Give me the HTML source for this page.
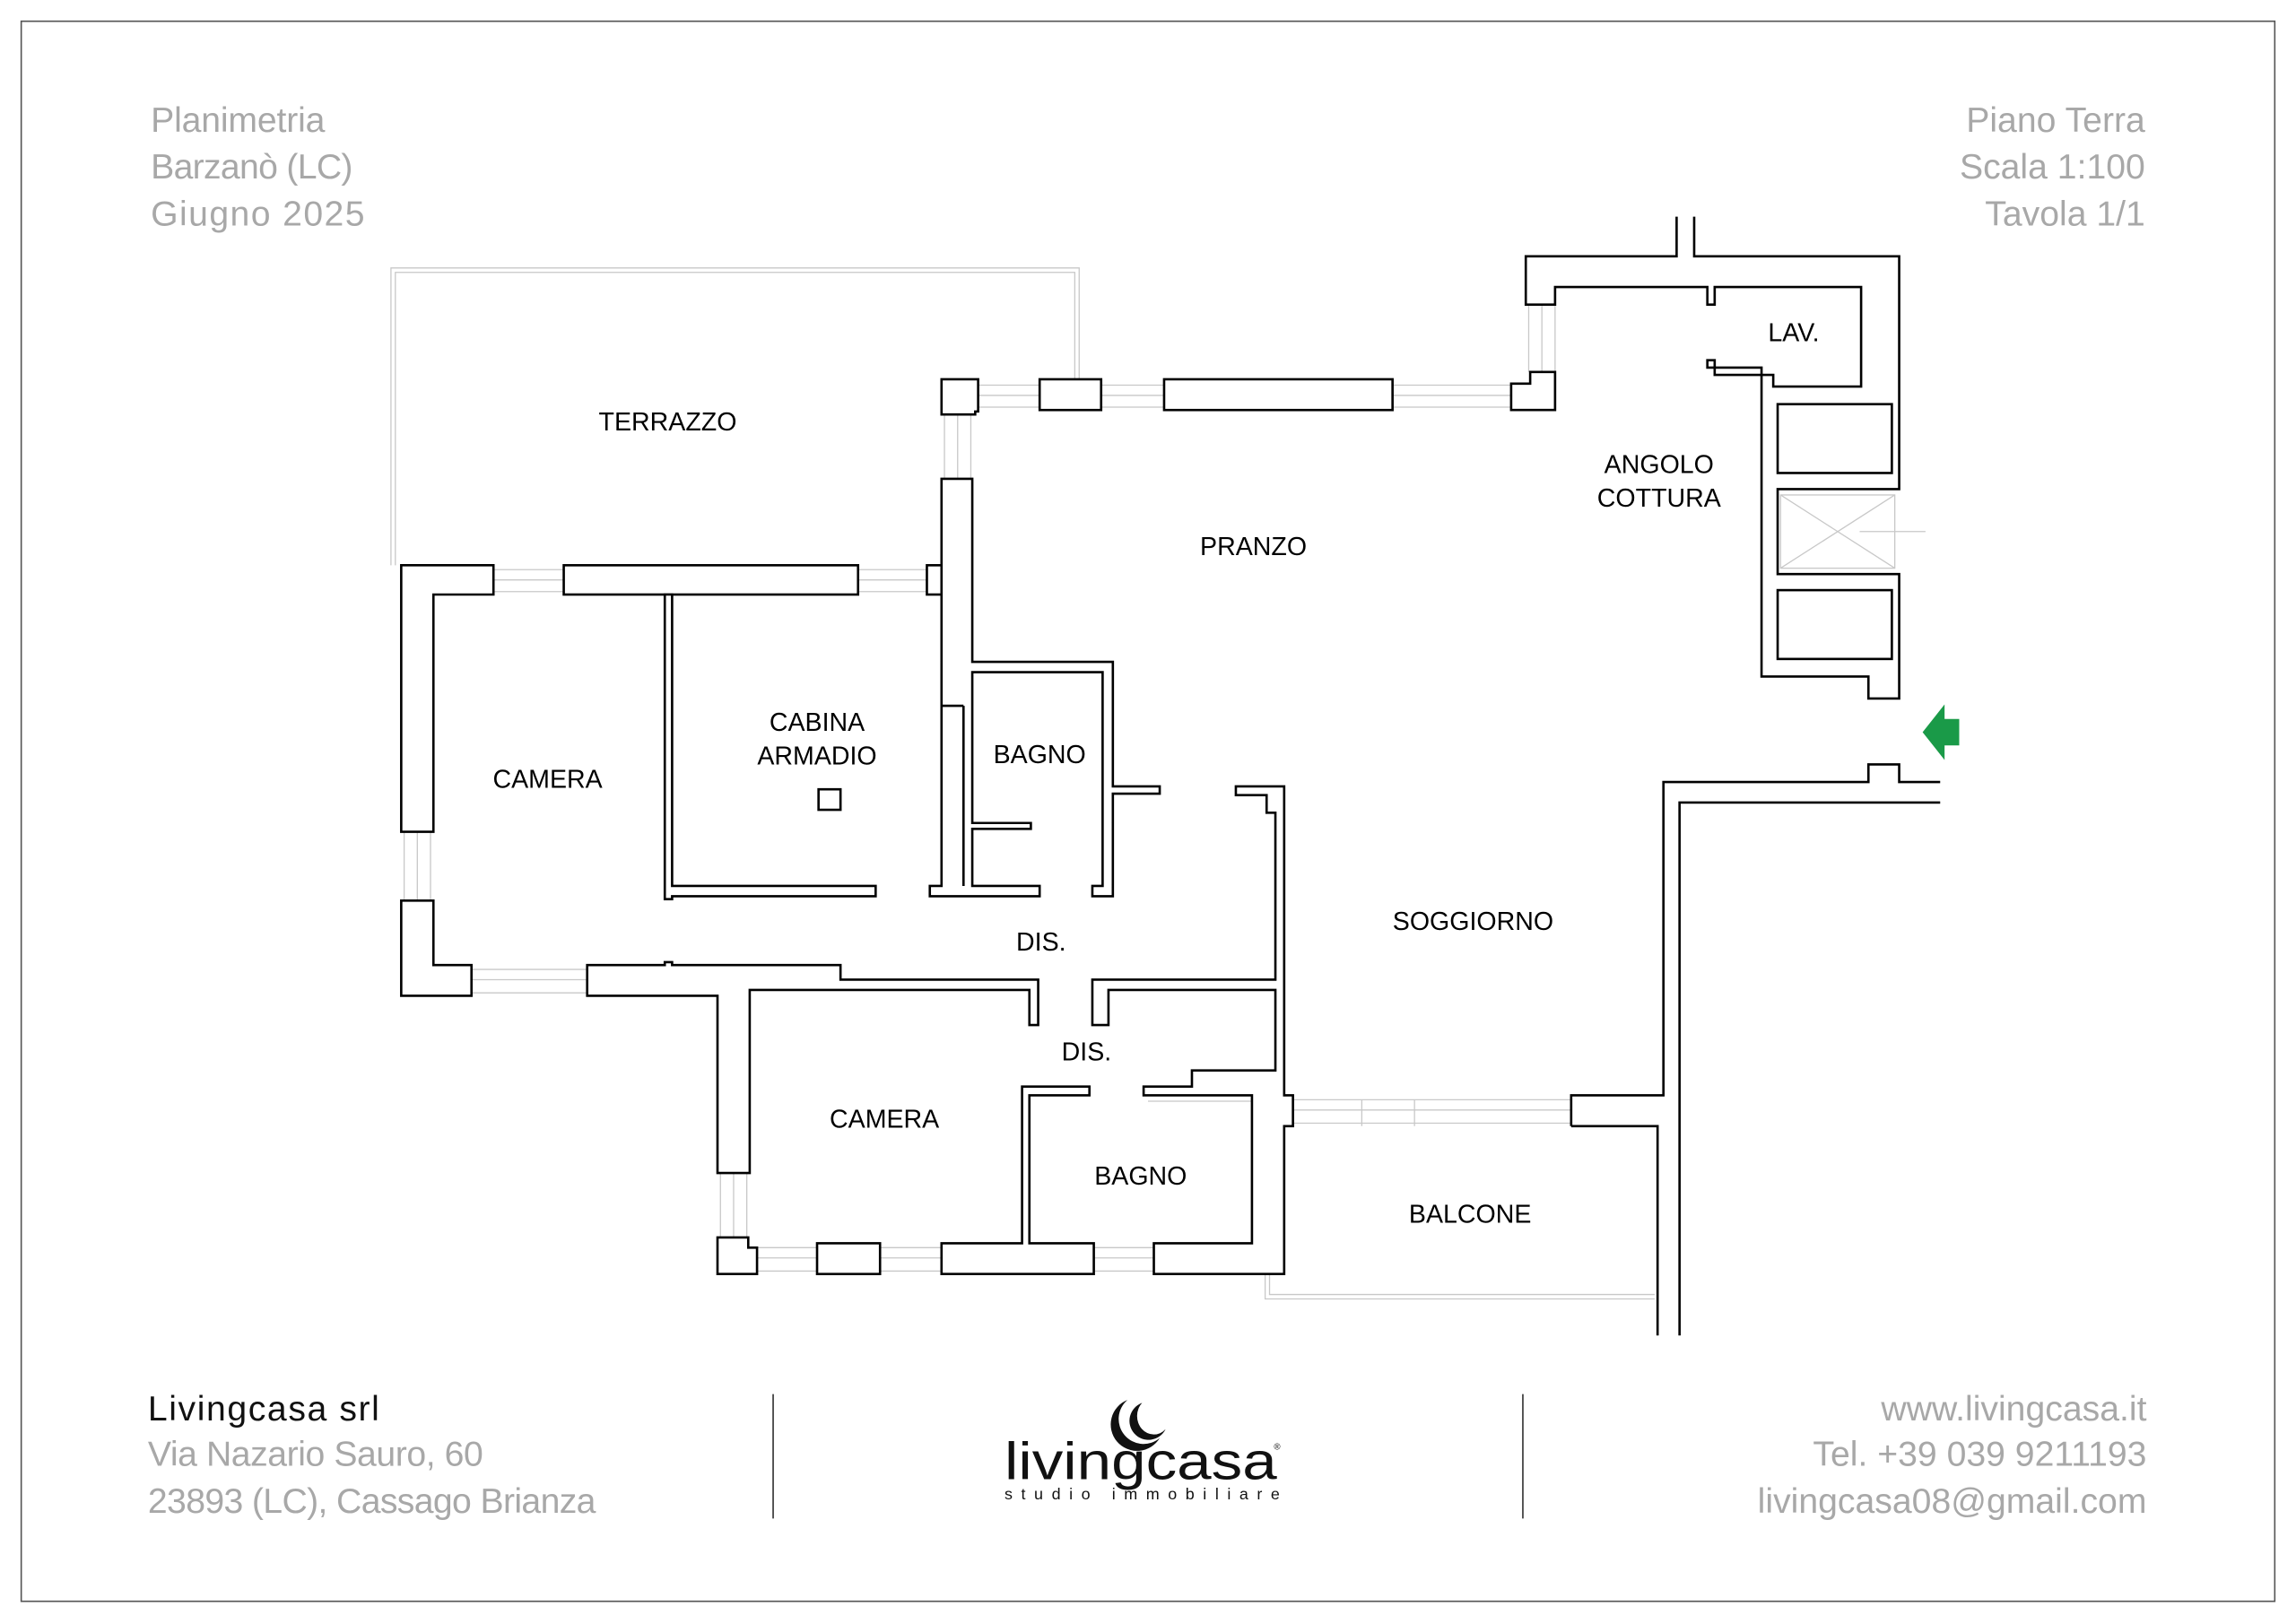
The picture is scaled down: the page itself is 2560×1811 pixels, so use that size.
<!DOCTYPE html>
<html><head><meta charset="utf-8"><style>
html,body{margin:0;padding:0;background:#fff;}
svg{display:block;}
text{font-family:"Liberation Sans",sans-serif;}
.w{fill:#fff;stroke:#000;stroke-width:1.6;stroke-linejoin:miter;}
.l{fill:none;stroke:#000;stroke-width:1.6;}
.g{fill:none;stroke:#c8c8c8;stroke-width:0.8;}
.r{font-size:17.5px;fill:#000;text-anchor:middle;}
.h{font-size:24px;fill:#a8a8a8;}
</style></head><body>
<svg width="2560" height="1811" viewBox="0 0 1568 1109" preserveAspectRatio="none" xmlns="http://www.w3.org/2000/svg">
<rect x="14.5" y="14.5" width="1539" height="1079" fill="#fff" stroke="#555" stroke-width="1"/>

<!-- header -->
<text class="h" x="103" y="90" textLength="119">Planimetria</text>
<text class="h" x="103" y="122" textLength="138">Barzanò (LC)</text>
<text class="h" x="103" y="154" textLength="146">Giugno 2025</text>
<text class="h" x="1465" y="90" text-anchor="end">Piano Terra</text>
<text class="h" x="1465" y="122" text-anchor="end">Scala 1:100</text>
<text class="h" x="1465" y="154" text-anchor="end">Tavola 1/1</text>

<!-- terrazzo gray outline -->
<polyline class="g" points="267,386 267,183 737,183 737,260"/>
<polyline class="g" points="270,386 270,186 734,186 734,260"/>

<!-- windows (gray) -->
<g class="g">
<line x1="668" y1="263" x2="710" y2="263"/><line x1="668" y1="270" x2="710" y2="270"/><line x1="668" y1="278" x2="710" y2="278"/>
<line x1="752" y1="263" x2="795" y2="263"/><line x1="752" y1="270" x2="795" y2="270"/><line x1="752" y1="278" x2="795" y2="278"/>
<line x1="951" y1="263" x2="1032" y2="263"/><line x1="951" y1="270" x2="1032" y2="270"/><line x1="951" y1="278" x2="1032" y2="278"/>
<line x1="645" y1="283" x2="645" y2="327"/><line x1="654" y1="283" x2="654" y2="327"/><line x1="663" y1="283" x2="663" y2="327"/>
<line x1="337" y1="389" x2="385" y2="389"/><line x1="337" y1="396" x2="385" y2="396"/><line x1="337" y1="404" x2="385" y2="404"/>
<line x1="586" y1="389" x2="633" y2="389"/><line x1="586" y1="396" x2="633" y2="396"/><line x1="586" y1="404" x2="633" y2="404"/>
<line x1="276" y1="568" x2="276" y2="615"/><line x1="285" y1="568" x2="285" y2="615"/><line x1="294" y1="568" x2="294" y2="615"/>
<line x1="322" y1="662" x2="401" y2="662"/><line x1="322" y1="669" x2="401" y2="669"/><line x1="322" y1="678" x2="401" y2="678"/>
<line x1="492" y1="801" x2="492" y2="845"/><line x1="501" y1="801" x2="501" y2="845"/><line x1="510" y1="801" x2="510" y2="845"/>
<line x1="517" y1="852" x2="558" y2="852"/><line x1="517" y1="859" x2="558" y2="859"/><line x1="517" y1="868" x2="558" y2="868"/>
<line x1="601" y1="852" x2="643" y2="852"/><line x1="601" y1="859" x2="643" y2="859"/><line x1="601" y1="868" x2="643" y2="868"/>
<line x1="747" y1="852" x2="788" y2="852"/><line x1="747" y1="859" x2="788" y2="859"/><line x1="747" y1="868" x2="788" y2="868"/>
<line x1="883" y1="751" x2="1073" y2="751"/><line x1="883" y1="758" x2="1073" y2="758"/><line x1="883" y1="767" x2="1073" y2="767"/>
<line x1="930" y1="751" x2="930" y2="769"/><line x1="966" y1="751" x2="966" y2="769"/>
<line x1="1044" y1="208" x2="1044" y2="254"/><line x1="1053" y1="208" x2="1053" y2="254"/><line x1="1062" y1="208" x2="1062" y2="254"/>
<polyline points="864,870 864,887 1130,887"/><polyline points="867,870 867,884 1130,884"/>
<line x1="784" y1="752" x2="855" y2="752"/>
<rect x="1216" y="338" width="78" height="50"/>
<line x1="1216" y1="338" x2="1294" y2="388"/><line x1="1294" y1="338" x2="1216" y2="388"/>
<line x1="1270" y1="363" x2="1315" y2="363"/>
</g>

<!-- walls -->
<g class="w">
<polygon points="643,259 668,259 668,281 666,281 666,283 643,283"/>
<rect x="710" y="259" width="42" height="21"/>
<rect x="795" y="259" width="156" height="21"/>
<polygon points="1032,262 1045,262 1045,254 1062,254 1062,280 1032,280"/>
<polygon points="274,386 337,386 337,406 296,406 296,568 274,568"/>
<polygon points="274,615 296,615 296,659 322,659 322,680 274,680"/>
<rect x="385" y="386" width="201" height="20"/>
<rect x="633" y="386" width="10" height="20"/>
<polygon points="643,327 664,327 664,452 760,452 760,537 792,537 792,542 760,542 760,612 746,612 746,605 753,605 753,459 664,459 664,562 704,562 704,566 664,566 664,605 710,605 710,612 635,612 635,605 643,605"/>
<line x1="658" y1="482" x2="658" y2="605"/><line x1="643" y1="482" x2="658" y2="482"/>
<polygon points="454,406 459,406 459,605 598,605 598,612 459,612 459,614 454,614"/>
<polygon points="401,659 454,659 454,657 459,657 459,659 574,659 574,669 709,669 709,700 703,700 703,676 512,676 512,801 490,801 490,680 401,680"/>
<polygon points="844,537 877,537 877,748 883,748 883,769 877,769 877,870 788,870 788,849 855,849 855,748 781,748 781,742 814,742 814,731 871,731 871,676 757,676 757,700 746,700 746,669 871,669 871,555 865,555 865,543 844,543"/>
<polygon points="698,742 744,742 744,748 703,748 703,849 747,849 747,870 643,870 643,849 698,849"/>
<polygon points="490,845 511,845 511,852 517,852 517,870 490,870"/>
<rect x="558" y="849" width="43" height="21"/>
<rect x="559" y="539" width="15" height="14"/>
</g>
<g class="l">
<polyline points="1073,769 1073,748 1136,748 1136,534 1276,534 1276,522 1297,522 1297,534 1325,534"/>
<polyline points="1325,548 1147,548 1147,912"/>
<polyline points="1073,769 1132,769 1132,912"/>
<polyline points="1145,148 1145,175 1042,175 1042,208 1062,208 1062,196 1166,196 1166,208 1171,208 1171,196 1271,196 1271,264 1211,264 1211,256 1171,256 1171,251 1166,251 1166,246 1171,246 1171,251 1203,251 1203,462 1276,462 1276,477 1297,477 1297,392 1214,392 1214,334 1297,334 1297,175 1157,175 1157,148"/>
<rect x="1214" y="276" width="78" height="47"/>
<rect x="1214" y="403" width="78" height="47"/>
</g>

<!-- green arrow -->
<polygon points="1313,500 1328,481 1328,491 1338,491 1338,509 1328,509 1328,519" fill="#1a9a48"/>

<!-- room labels -->
<text class="r" x="456" y="294">TERRAZZO</text>
<text class="r" x="856" y="379">PRANZO</text>
<text class="r" x="1133" y="323">ANGOLO</text>
<text class="r" x="1133" y="346">COTTURA</text>
<text class="r" x="1225" y="233">LAV.</text>
<text class="r" x="558" y="499">CABINA</text>
<text class="r" x="558" y="522">ARMADIO</text>
<text class="r" x="710" y="521">BAGNO</text>
<text class="r" x="374" y="538">CAMERA</text>
<text class="r" x="1006" y="635">SOGGIORNO</text>
<text class="r" x="711" y="649">DIS.</text>
<text class="r" x="742" y="724">DIS.</text>
<text class="r" x="604" y="770">CAMERA</text>
<text class="r" x="779" y="809">BAGNO</text>
<text class="r" x="1004" y="835">BALCONE</text>

<!-- footer -->
<text x="101" y="970" style="font-size:24px;fill:#111" textLength="158">Livingcasa srl</text>
<text x="101" y="1001" class="h" textLength="229">Via Nazario Sauro, 60</text>
<text x="101" y="1033" class="h" textLength="306">23893 (LC), Cassago Brianza</text>
<text x="1466" y="970" class="h" text-anchor="end">www.livingcasa.it</text>
<text x="1466" y="1001" class="h" text-anchor="end">Tel. +39 039 9211193</text>
<text x="1466" y="1033" class="h" text-anchor="end">livingcasa08@gmail.com</text>
<line x1="528" y1="952" x2="528" y2="1037" stroke="#333" stroke-width="1"/>
<line x1="1040" y1="952" x2="1040" y2="1037" stroke="#333" stroke-width="1"/>
<path d="M770,956 A14,14 0 1,0 792,982 A18,18 0 1,1 770,956 Z" fill="#111"/>
<path d="M780,958 A10,11 0 1,0 796,976 A13,13 0 1,1 780,958 Z" fill="#111"/>
<text x="686" y="1010" style="font-size:36px;fill:#111" textLength="186" lengthAdjust="spacingAndGlyphs">livingcasa</text>
<text x="870" y="990" style="font-size:6px;fill:#111">®</text>
<text x="686" y="1024" style="font-size:11px;fill:#111" textLength="188">studio immobiliare</text>
</svg>
</body></html>
